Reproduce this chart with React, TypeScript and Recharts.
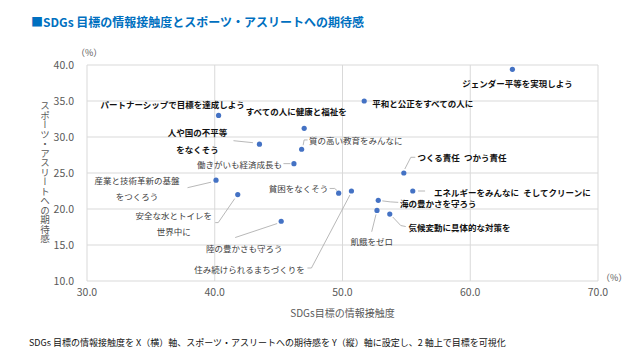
import React from 'react';
import { ScatterChart, Scatter, XAxis, YAxis, CartesianGrid } from 'recharts';

const FONT = '"Noto Sans CJK JP", "Noto Sans", sans-serif';

const goalNames = [
  'ジェンダー平等を実現しよう',
  '平和と公正をすべての人に',
  'パートナーシップで目標を達成しよう',
  'すべての人に健康と福祉を',
  '人や国の不平等をなくそう',
  '質の高い教育をみんなに',
  '働きがいも経済成長も',
  '産業と技術革新の基盤をつくろう',
  '安全な水とトイレを世界中に',
  '陸の豊かさも守ろう',
  '貧困をなくそう',
  '住み続けられるまちづくりを',
  'つくる責任 つかう責任',
  'エネルギーをみんなに そしてクリーンに',
  '海の豊かさを守ろう',
  '飢餓をゼロ',
  '気候変動に具体的な対策を',
];

// SDGs目標の情報接触度 (%)
const contactRates = [63.3, 51.7, 40.3, 47.0, 43.5, 46.8, 46.2, 40.1, 41.8, 45.2, 49.7, 50.7, 54.8, 55.5, 52.8, 52.7, 53.7];
// スポーツ・アスリートへの期待感 (%)
const expectations = [39.4, 35.0, 33.0, 31.2, 29.0, 28.3, 26.3, 24.0, 22.0, 18.3, 22.2, 22.5, 25.0, 22.5, 21.2, 19.8, 19.3];

const xTicks = [30, 40, 50, 60, 70];
const yTicks = [10, 15, 20, 25, 30, 35, 40];

type Layout = {
  lines: string[];
  dx: number;
  dy: number;
  lh?: number;
  anchor: 'start' | 'middle' | 'end';
  bold: boolean;
  leader?: number[][];
};

// label placement relative to each point (px)
const labelLayouts: Layout[] = [
  { lines: ['ジェンダー平等を実現しよう'], dx: 5, dy: 14, anchor: 'middle', bold: true },
  { lines: ['平和と公正をすべての人に'], dx: 8, dy: 2, anchor: 'start', bold: true },
  { lines: ['パートナーシップで目標を達成しよう'], dx: -46, dy: -11, anchor: 'middle', bold: true },
  { lines: ['すべての人に健康と福祉を'], dx: -8, dy: -17, anchor: 'middle', bold: true },
  { lines: ['人や国の不平等', 'をなくそう'], dx: -62, dy: -12, lh: 17, anchor: 'middle', bold: true, leader: [[-26, -3.5], [-6.5, -1.5]] },
  { lines: ['質の高い教育をみんなに'], dx: 7.5, dy: -9.3, anchor: 'start', bold: false, leader: [[1.5, -4], [2.5, -9.3], [6, -9.3]] },
  { lines: ['働きがいも経済成長も'], dx: -12, dy: 0, anchor: 'end', bold: false, leader: [[-10.5, 0], [-3.5, 0]] },
  { lines: ['産業と技術革新の基盤', 'をつくろう'], dx: -79, dy: 0, lh: 15.5, anchor: 'middle', bold: false, leader: [[-28.5, 7.5], [-5, 2]] },
  { lines: ['安全な水とトイレを', '世界中に'], dx: -64, dy: 20.7, lh: 16, anchor: 'middle', bold: false, leader: [[-22.5, 28], [-19.5, 28], [-3, 4]] },
  { lines: ['陸の豊かさも守ろう'], dx: -37, dy: 26.7, anchor: 'middle', bold: false, leader: [[-46, 16.3], [-4, 2.3]] },
  { lines: ['貧困をなくそう'], dx: -10.5, dy: -4.7, anchor: 'end', bold: false, leader: [[-9, -4.7], [-4, -4.7], [-1.5, -2.5]] },
  { lines: ['住み続けられるまちづくりを'], dx: -46.7, dy: 78, anchor: 'end', bold: false, leader: [[-44, 77], [-40, 77], [-1.5, 4]] },
  { lines: ['つくる責任\u2002つかう責任'], dx: 13.6, dy: -15.7, anchor: 'start', bold: true, leader: [[1, -4], [7, -15.7], [11.5, -15.7]] },
  { lines: ['エネルギーをみんなに\u2002そしてクリーンに'], dx: 21.3, dy: 0.7, anchor: 'start', bold: true, leader: [[5.3, 0], [12.3, 0]] },
  { lines: ['海の豊かさを守ろう'], dx: 21.7, dy: 3, anchor: 'start', bold: true, leader: [[4, 0.5], [12, 1.5], [20, 2]] },
  { lines: ['飢餓をゼロ'], dx: -5.3, dy: 30.7, anchor: 'middle', bold: false, leader: [[-1, 4], [-5.3, 21.3]] },
  { lines: ['気候変動に具体的な対策を'], dx: 18.7, dy: 13, anchor: 'start', bold: true, leader: [[3, 3], [11, 11.5], [16, 12.5]] },
];

const points = goalNames.map((name, i) => ({ name, x: contactRates[i], y: expectations[i], i }));

const fmt = (v: number) => v.toFixed(1);

const renderPoint = (props: any) => {
  const { cx, cy, payload } = props;
  if (cx == null || cy == null) return <g />;
  const L = labelLayouts[payload.i];
  const lh = L.lh ?? 15;
  return (
    <g>
      {L.leader && (
        <polyline
          points={L.leader.map(([a, b]) => `${cx + a},${cy + b}`).join(' ')}
          fill="none"
          stroke="#a6a6a6"
          strokeWidth={0.8}
        />
      )}
      <circle cx={cx} cy={cy} r={2.6} fill="#4472c4" />
      {L.lines.map((t, k) => (
        <text
          key={k}
          x={cx + L.dx}
          y={cy + L.dy + k * lh}
          textAnchor={L.anchor}
          dominantBaseline="central"
          fontFamily={FONT}
          fontSize={8.5}
          fontWeight={L.bold ? 700 : 400}
          fill={L.bold ? '#111111' : '#404040'}
        >
          {t}
        </text>
      ))}
    </g>
  );
};

export default function App() {
  return (
    <div style={{ position: 'absolute', left: 0, top: 0, width: 640, height: 360, background: '#ffffff', fontFamily: FONT, overflow: 'hidden' }}>
      <div style={{ position: 'absolute', left: 31, top: 13, fontSize: 12, fontWeight: 700, color: '#0070c0', whiteSpace: 'nowrap', lineHeight: '18px' }}>
        ■SDGs 目標の情報接触度とスポーツ・アスリートへの期待感
      </div>
      <div style={{ position: 'absolute', left: 0, top: 0 }}>
        <ScatterChart width={640} height={360} margin={{ top: 65, right: 42, bottom: 39, left: 37 }}>
          <CartesianGrid stroke="#d9d9d9" />
          <XAxis
            type="number"
            dataKey="x"
            domain={[30, 70]}
            ticks={xTicks}
            tickFormatter={fmt}
            axisLine={false}
            tickLine={false}
            height={40}
            tick={{ fill: '#595959', fontSize: 10.5, fontFamily: FONT }}
            label={{ value: 'SDGs目標の情報接触度', position: 'insideBottom', offset: 4, fill: '#595959', fontSize: 10, fontFamily: FONT }}
          />
          <YAxis
            type="number"
            dataKey="y"
            domain={[10, 40]}
            ticks={yTicks}
            tickFormatter={fmt}
            axisLine={false}
            tickLine={false}
            width={50}
            tickMargin={7}
            tick={{ fill: '#595959', fontSize: 10.5, fontFamily: FONT }}
          />
          <Scatter data={points} fill="#4472c4" isAnimationActive={false} shape={renderPoint} />
        </ScatterChart>
      </div>
      <div style={{ position: 'absolute', left: 39, top: 101, writingMode: 'vertical-rl', fontSize: 9.5, lineHeight: '12px', color: '#595959', whiteSpace: 'nowrap' }}>
        スポーツ・アスリートへの期待感
      </div>
      <div style={{ position: 'absolute', left: 76, top: 47, fontSize: 9, lineHeight: '12px', color: '#595959' }}>（%）</div>
      <div style={{ position: 'absolute', left: 601, top: 272, fontSize: 9, lineHeight: '12px', color: '#595959' }}>（%）</div>
      <div style={{ position: 'absolute', left: 29, top: 336, fontSize: 9, lineHeight: '14px', color: '#111111', whiteSpace: 'nowrap' }}>
        SDGs 目標の情報接触度を X（横）軸、スポーツ・アスリートへの期待感を Y（縦）軸に設定し、2 軸上で目標を可視化
      </div>
    </div>
  );
}
